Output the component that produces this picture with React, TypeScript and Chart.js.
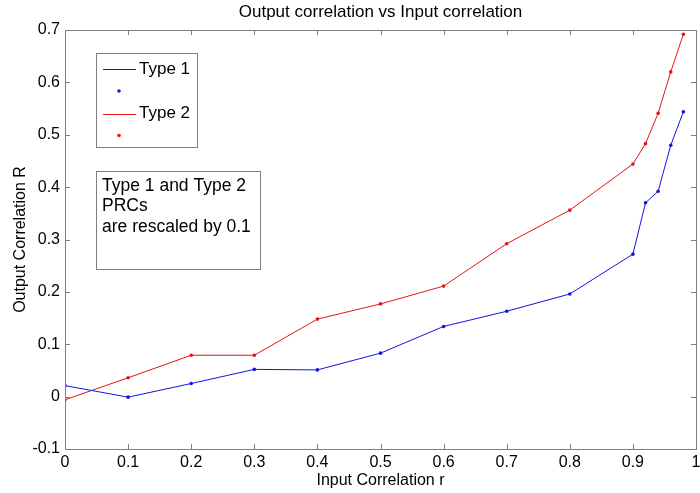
import React, { useEffect, useRef } from "react";
import { Chart, registerables } from "chart.js";

Chart.register(...registerables);

const inputR = [0, 0.1, 0.2, 0.3, 0.4, 0.5, 0.6, 0.7, 0.8, 0.9, 0.92, 0.94, 0.96, 0.98];
const type1 = [0.021, -0.001, 0.025, 0.052, 0.051, 0.083, 0.134, 0.163, 0.196, 0.272, 0.37, 0.392, 0.48, 0.544];
const type2 = [-0.006, 0.036, 0.079, 0.079, 0.148, 0.177, 0.211, 0.292, 0.356, 0.444, 0.483, 0.541, 0.62, 0.692];
const seriesNames = ["Type 1", "Type 2"];
const seriesColors = ["rgb(20,20,225)", "rgb(230,20,20)"];
const noteLines = ["Type 1 and Type 2", "PRCs", "are rescaled by 0.1"];
const titleText = "Output correlation vs Input correlation";
const xTitle = "Input Correlation r";
const yTitle = "Output Correlation R";

const FONT = "'Liberation Sans', Arial, Helvetica, sans-serif";
const FRAME = "#7f7f7f";

const fmt = (v: number) => String(Math.round(v * 10) / 10);

const framePlugin = {
  id: "matlabFrame",
  afterDraw(chart: any) {
    const { ctx, chartArea: a, scales } = chart;
    ctx.save();
    ctx.strokeStyle = FRAME;
    ctx.lineWidth = 1;
    ctx.strokeRect(Math.round(a.left) + 0.5, Math.round(a.top) + 0.5, Math.round(a.right - a.left), Math.round(a.bottom - a.top));
    const tl = 5;
    ctx.beginPath();
    scales.x.ticks.forEach((t: any) => {
      const px = Math.round(scales.x.getPixelForValue(t.value)) + 0.5;
      ctx.moveTo(px, a.bottom);
      ctx.lineTo(px, a.bottom - tl);
      ctx.moveTo(px, a.top);
      ctx.lineTo(px, a.top + tl);
    });
    scales.y.ticks.forEach((t: any) => {
      const py = Math.round(scales.y.getPixelForValue(t.value)) + 0.5;
      ctx.moveTo(a.left, py);
      ctx.lineTo(a.left + tl, py);
      ctx.moveTo(a.right, py);
      ctx.lineTo(a.right - tl, py);
    });
    ctx.stroke();

    // x tick labels (taken from the x scale's ticks)
    ctx.fillStyle = "#000";
    ctx.font = `16px ${FONT}`;
    ctx.textAlign = "center";
    ctx.textBaseline = "middle";
    scales.x.ticks.forEach((t: any) => {
      const px = scales.x.getPixelForValue(t.value);
      ctx.fillText(fmt(t.value), px, a.bottom + 14);
    });

    // legend box
    const lx = a.left + 31;
    const ly = a.top + 23;
    const lw = 101;
    const lh = 94;
    ctx.fillStyle = "#fff";
    ctx.fillRect(lx, ly, lw, lh);
    ctx.strokeStyle = FRAME;
    ctx.strokeRect(lx + 0.5, ly + 0.5, lw, lh);
    ctx.font = `17px ${FONT}`;
    ctx.textBaseline = "middle";
    ctx.textAlign = "left";
    seriesNames.forEach((name, i) => {
      const yLine = ly + 16 + i * 44.5;
      ctx.strokeStyle = seriesColors[i];
      ctx.beginPath();
      ctx.moveTo(lx + 7, Math.round(yLine) + 0.5);
      ctx.lineTo(lx + 40, Math.round(yLine) + 0.5);
      ctx.stroke();
      ctx.fillStyle = "#000";
      ctx.fillText(name, lx + 43, yLine);
      ctx.fillStyle = seriesColors[i];
      ctx.beginPath();
      ctx.arc(lx + 23, yLine + 22, 1.8, 0, Math.PI * 2);
      ctx.fill();
    });

    // note box
    const nx = a.left + 31;
    const ny = a.top + 141;
    const nw = 164;
    const nh = 98;
    ctx.fillStyle = "#fff";
    ctx.fillRect(nx, ny, nw, nh);
    ctx.strokeStyle = FRAME;
    ctx.strokeRect(nx + 0.5, ny + 0.5, nw, nh);
    ctx.fillStyle = "#000";
    ctx.font = `17.5px ${FONT}`;
    noteLines.forEach((line, i) => {
      ctx.fillText(line, nx + 6, ny + 15 + i * 20.5);
    });
    ctx.restore();
  },
};

export default function App() {
  const ref = useRef<HTMLCanvasElement | null>(null);
  useEffect(() => {
    if (!ref.current) return;
    const chart = new Chart(ref.current, {
      type: "line",
      data: {
        datasets: [
          {
            label: seriesNames[0],
            data: inputR.map((x, i) => ({ x, y: type1[i] })),
            borderColor: seriesColors[0],
            backgroundColor: seriesColors[0],
            borderWidth: 1,
            pointRadius: 1.8,
            pointBorderWidth: 0,
            tension: 0,
          },
          {
            label: seriesNames[1],
            data: inputR.map((x, i) => ({ x, y: type2[i] })),
            borderColor: seriesColors[1],
            backgroundColor: seriesColors[1],
            borderWidth: 1,
            pointRadius: 1.8,
            pointBorderWidth: 0,
            tension: 0,
          },
        ],
      },
      options: {
        responsive: false,
        animation: false,
        layout: { padding: { left: 0, right: 1, top: 0, bottom: 0 } },
        plugins: {
          legend: { display: false },
          tooltip: { enabled: false },
          title: {
            display: true,
            text: titleText,
            fullSize: false,
            color: "#000",
            font: { family: FONT, size: 17, weight: "normal" },
            padding: { top: 2, bottom: 7.6 },
          },
        },
        scales: {
          x: {
            type: "linear",
            min: 0,
            max: 1,
            ticks: {
              display: false,
              stepSize: 0.1,
              autoSkip: false,
            },
            grid: { display: false, drawTicks: false },
            border: { display: false },
            title: {
              display: true,
              text: xTitle,
              color: "#000",
              font: { family: FONT, size: 16 },
              padding: { top: 0, bottom: 3 },
            },
            afterFit: (s: any) => {
              s.height = 44;
              s.paddingRight = 0;
              s.paddingLeft = 0;
            },
          },
          y: {
            type: "linear",
            min: -0.1,
            max: 0.7,
            ticks: {
              stepSize: 0.1,
              color: "#000",
              font: { family: FONT, size: 16 },
              padding: 5,
              autoSkip: false,
              callback: (v: any) => fmt(Number(v)),
            },
            grid: { display: false, drawTicks: false },
            border: { display: false },
            title: {
              display: true,
              text: yTitle,
              color: "#000",
              font: { family: FONT, size: 16 },
              padding: { top: 11, bottom: 0 },
            },
            afterFit: (s: any) => {
              s.width = 65;
              s.paddingTop = 0;
              s.paddingBottom = 0;
            },
          },
        },
      },
      plugins: [framePlugin],
    });
    return () => chart.destroy();
  }, []);
  return (
    <div style={{ position: "fixed", left: 0, top: 0, width: 700, height: 493, background: "#fff" }}>
      <canvas ref={ref} width={700} height={493} />
    </div>
  );
}
